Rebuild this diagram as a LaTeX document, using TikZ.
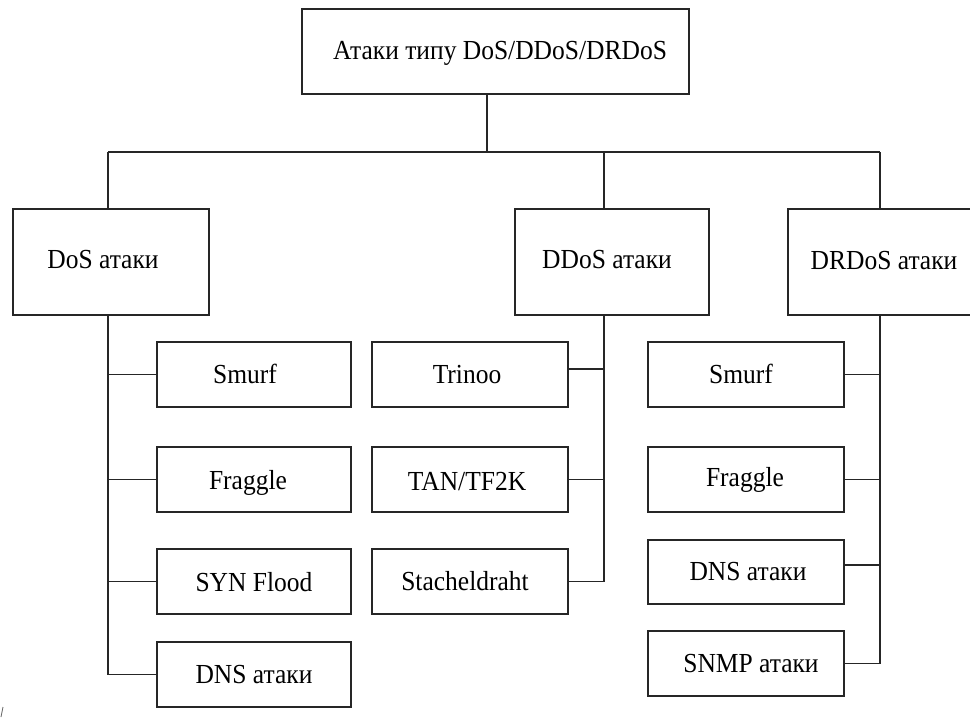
\documentclass[tikz,border=0pt]{standalone}
\usepackage{fontspec}
\setmainfont{Liberation Serif}
\begin{document}
\begin{tikzpicture}[x=1pt,y=-1pt,
  boxst/.style={draw=black!85, line width=1.8pt, rectangle, inner sep=0pt, outer sep=0pt},
  txt/.style={anchor=base, inner sep=0pt, font=\fontsize{25.5}{30}\selectfont, text=black},
  conn/.style={draw=black!85, line width=1.8pt}]
\useasboundingbox (0,0) rectangle (970,724);
\clip (0,0) rectangle (970,724);
\fill[white] (0,0) rectangle (970,724);
% box macro: name, x1, y1, x2, y2, text x, baseline, text
\newcommand\mybox[8]{%
  \node[boxst, minimum width={(#4-#2)*1pt}, minimum height={(#5-#3)*1pt}]
    (#1) at ({(#2+#4)/2},{(#3+#5)/2}) {};
  \node[txt] (#1-t) at (#6,#7) {\scalebox{1}[1.08]{#8}};}
\mybox{top}{302}{9}{689}{94}{500}{59}{Атаки типу DoS/DDoS/DRDoS}
\mybox{dos}{13}{209}{209}{315}{103}{268}{DoS атаки}
\mybox{ddos}{515}{209}{709}{315}{607}{268}{DDoS атаки}
\mybox{drdos}{788}{209}{985}{315}{884}{269}{DRDoS атаки}
\mybox{dosa}{157}{342}{351}{407}{245}{383}{Smurf}
\mybox{dosb}{157}{447}{351}{512}{248}{489}{Fraggle}
\mybox{dosc}{157}{549}{351}{614}{254}{591}{SYN Flood}
\mybox{dosd}{157}{642}{351}{707}{254}{683}{DNS атаки}
\mybox{dda}{372}{342}{568}{407}{467}{383}{Trinoo}
\mybox{ddb}{372}{447}{568}{512}{467}{490}{TAN/TF2K}
\mybox{ddc}{372}{549}{568}{614}{465}{590}{Stacheldraht}
\mybox{dra}{648}{342}{844}{407}{741}{383}{Smurf}
\mybox{drb}{648}{447}{844}{512}{745}{486}{Fraggle}
\mybox{drc}{648}{540}{844}{604}{748}{580}{DNS атаки}
\mybox{drd}{648}{631}{844}{696}{751}{672}{SNMP атаки}
% hub coordinates
\coordinate (hub) at (487,152);
\coordinate (hl) at (108,152);
\coordinate (hm) at (604,152);
\coordinate (hr) at (880,152);
\coordinate (dda-e) at ([yshift=5.5pt]dda.east);
\coordinate (drc-e) at ([yshift=7pt]drc.east);
% top level connectors
\draw[conn] (top.south -| hub) -- (hub);
\draw[conn] (hl) -- (hr);
\draw[conn] (hl) -- (dos.north -| hl);
\draw[conn] (hm) -- (ddos.north -| hm);
\draw[conn] (hr) -- (drdos.north -| hr);
% DoS branch
\draw[conn] (dos.south -| hl) -- (hl |- dosd.west);
\draw[conn] (hl |- dosa.west) -- (dosa.west);
\draw[conn] (hl |- dosb.west) -- (dosb.west);
\draw[conn] (hl |- dosc.west) -- (dosc.west);
\draw[conn] (hl |- dosd.west) -- (dosd.west);
% DDoS branch
\draw[conn] (ddos.south -| hm) -- (hm |- ddc.east);
\draw[conn] (dda-e) -- (hm |- dda-e);
\draw[conn] (ddb.east) -- (hm |- ddb.east);
\draw[conn] (ddc.east) -- (hm |- ddc.east);
% DRDoS branch
\draw[conn] (drdos.south -| hr) -- (hr |- drd.east);
\draw[conn] (dra.east) -- (hr |- dra.east);
\draw[conn] (drb.east) -- (hr |- drb.east);
\draw[conn] (drc-e) -- (hr |- drc-e);
\draw[conn] (drd.east) -- (hr |- drd.east);
% small stray mark
\draw[black!60, line width=0.8pt] (1,717) -- (3,707);
\end{tikzpicture}
\end{document}
